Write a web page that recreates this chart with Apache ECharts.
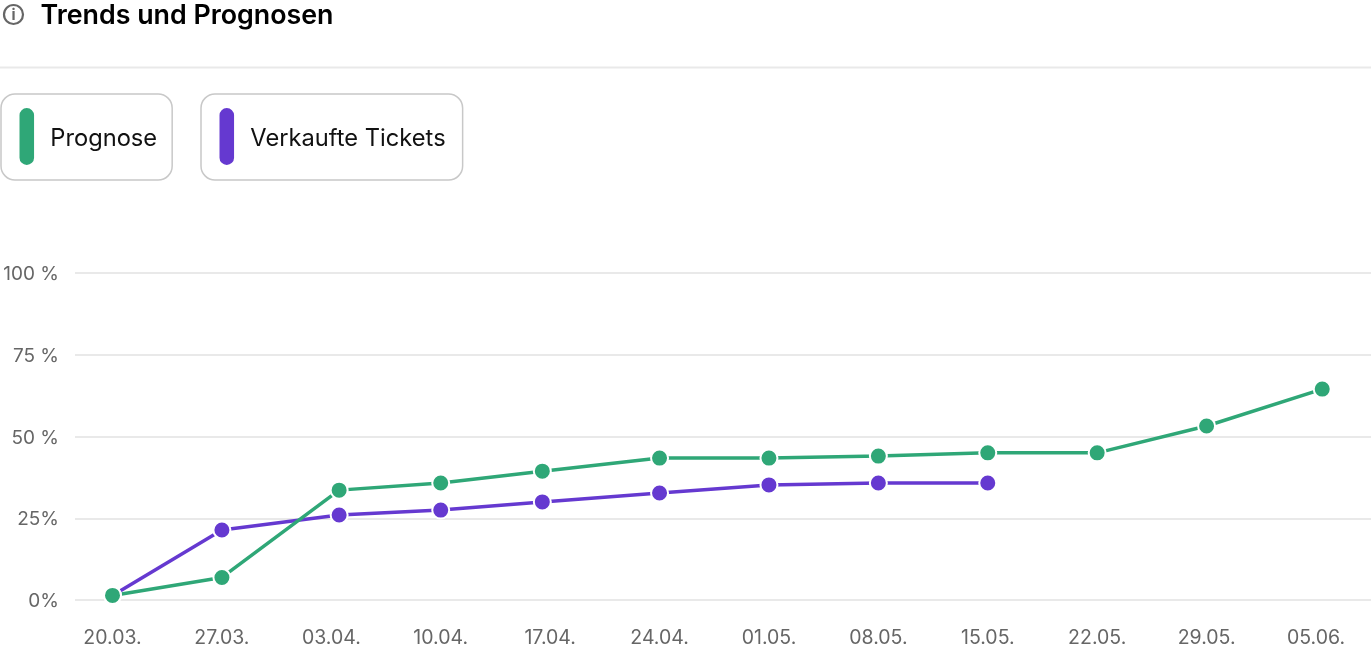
<!DOCTYPE html>
<html><head><meta charset="utf-8">
<style>html,body{margin:0;padding:0;background:#fff}#c{width:1371px;height:653px}</style>
<script src="https://cdn.jsdelivr.net/npm/echarts@6/dist/echarts.min.js"></script>
</head><body><div id="c"></div>
<script>
const titleText = 'Trends und Prognosen';
const tickDays = [0,7,14,21,28,35,42,49,56,63,70,77];
const tickLabels = ['20.03.','27.03.','03.04.','10.04.','17.04.','24.04.','01.05.','08.05.','15.05.','22.05.','29.05.','05.06.'];
const pointDays = [0,7,14.5,21,27.5,35,42,49,56,63,70,77.4];
const prognose = [1.4,6.9,33.6,35.8,39.4,43.4,43.4,44,45,45,53.2,64.5];
const verkauft = [1.4,21.4,26,27.5,30,32.7,35.2,35.8,35.8];
const yLabels = {0:'0%',25:'25%',50:'50 %',75:'75 %',100:'100 %'};
const GREEN='#2fa777', PURPLE='#6539d0';
const font='Inter';
const capsule='path://M8 0A8 8 0 0 1 16 8V49A8 8 0 0 1 0 49V8A8 8 0 0 1 8 0Z';
const zip=(v)=>v.map((y,i)=>[pointDays[i],y]);
function lineSeries(name,color,data){return {name,type:'line',data,symbol:'circle',symbolSize:17,showSymbol:true,
  lineStyle:{color,width:3.5},itemStyle:{color,borderColor:'#fff',borderWidth:2},
  emphasis:{disabled:true},animation:false,clip:false};}
function legend(name,left,color,rightPad){return {show:true,data:[name],left,top:94,orient:'horizontal',
  padding:[12,rightPad,13,16.5],itemWidth:20,itemHeight:59,itemGap:0,icon:capsule,
  borderColor:'#c8c8c8',borderWidth:1.5,borderRadius:14,backgroundColor:'#fff',selectedMode:false,
  formatter:n=>'{a|'+n+'}',
  textStyle:{fontFamily:font,fontSize:23.7,color:'#111',
    rich:{a:{fontFamily:font,fontSize:23.7,color:'#111',padding:[4,0,0,8.5]}}}};}
const chart=echarts.init(document.getElementById('c'));
chart.setOption({
  animation:false,backgroundColor:'#fff',
  title:{text:titleText,left:40.5,top:1,padding:0,textStyle:{fontFamily:font,fontSize:26.8,fontWeight:600,color:'#000',lineHeight:30}},
  legend:[legend('Prognose',1,GREEN,15),legend('Verkaufte Tickets',201,PURPLE,17)],
  grid:{left:75,right:0,top:273,bottom:53,containLabel:false},
  xAxis:{type:'value',min:-2.4,max:80.52,
    axisLine:{show:false},axisTick:{show:false},splitLine:{show:false},
    axisLabel:{customValues:tickDays,margin:28,color:'#666',fontFamily:font,fontSize:19.5,hideOverlap:false,
      showMinLabel:true,showMaxLabel:true,
      formatter:v=>tickLabels[tickDays.indexOf(v)]}},
  yAxis:{type:'value',min:0,max:100,interval:25,axisLine:{show:false},axisTick:{show:false},
    splitLine:{lineStyle:{color:'#e9e9e9',width:2}},
    axisLabel:{margin:16,color:'#666',fontFamily:font,fontSize:19,formatter:v=>'{a|'+yLabels[v]+'}',
      rich:{a:{fontFamily:font,fontSize:19,color:'#666',padding:[3,0,0,0]}}}},
  series:[lineSeries('Verkaufte Tickets',PURPLE,zip(verkauft)),lineSeries('Prognose',GREEN,zip(prognose))],
  graphic:[
    {type:'line',shape:{x1:0,y1:67.5,x2:1371,y2:67.5},style:{stroke:'#e9e9e9',lineWidth:2},silent:true},
    {type:'circle',shape:{cx:13.5,cy:14.5,r:9.5},style:{fill:'none',stroke:'#666',lineWidth:2.2},silent:true},
    {type:'text',style:{text:'i',x:13.5,y:15,align:'center',verticalAlign:'middle',fontFamily:font,fontWeight:700,fontSize:15,fill:'#666'},silent:true}
  ]
});
</script></body></html>
